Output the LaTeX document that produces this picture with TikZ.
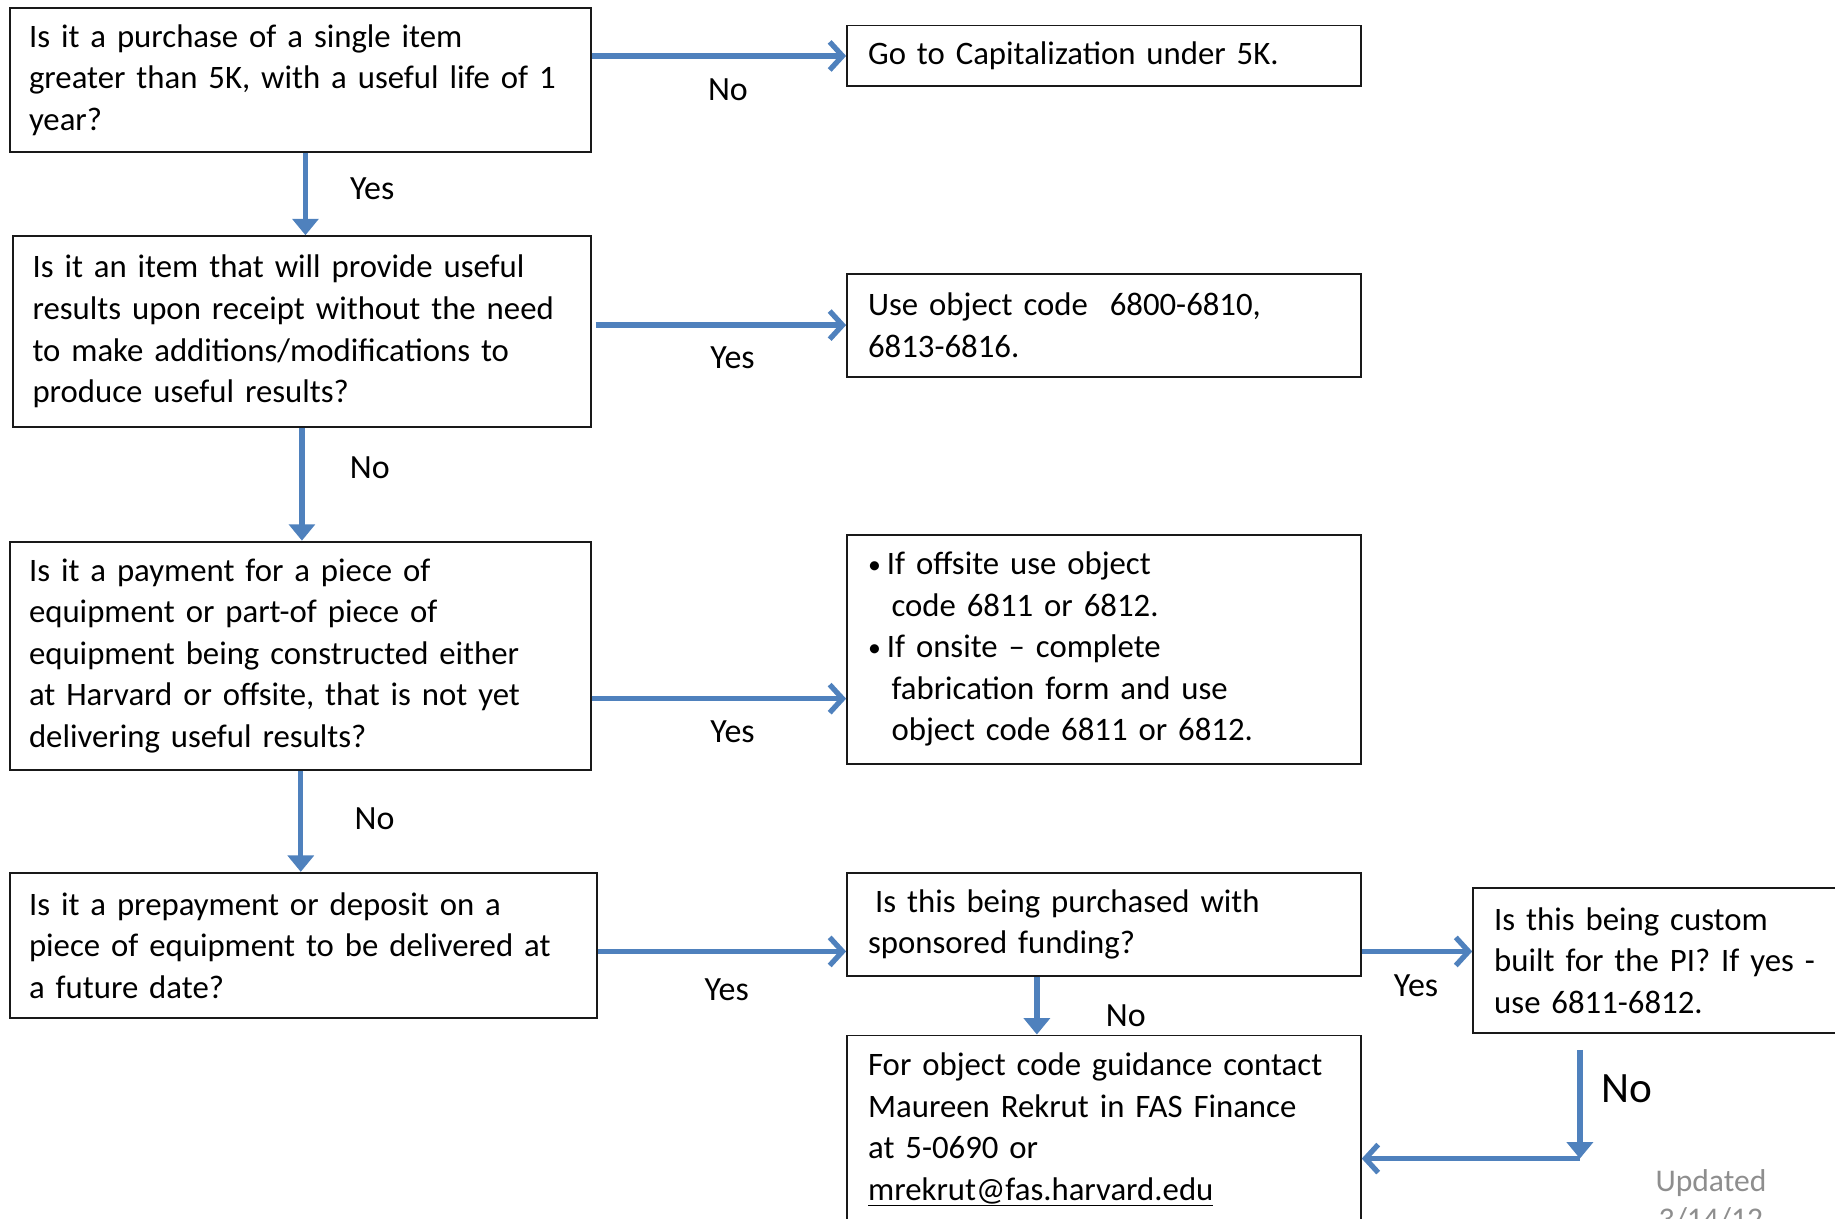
\documentclass[tikz,border=0pt]{standalone}
\usepackage{fontspec}
\setmainfont{Carlito}
\usetikzlibrary{arrows.meta,calc}
\definecolor{arrowblue}{HTML}{4F81BD}
\definecolor{notegray}{HTML}{8E8E8E}
\newcommand\bodyfont{\fontsize{28}{35.5}\selectfont}
\newcommand\lblfont{\fontsize{29}{35}\selectfont}
\newcommand\biglblfont{\fontsize{37}{42}\selectfont}
\tikzset{
  box/.style={draw=black!90, line width=1.6pt, rectangle, anchor=north west,
    align=left, inner ysep=0pt, font=\bodyfont},
  lbl/.style={font=\lblfont, inner sep=0pt},
  arr/.style={draw=arrowblue, line width=4.5pt},
  rt/.style={arr, -{Straight Barb[length=11pt,width=24pt]}},
  dn/.style={arr, -{Triangle[length=14pt,width=22pt]}},
}
\begin{document}
\begin{tikzpicture}[x=1pt,y=-1pt]
\useasboundingbox (0,0) rectangle (1568,1041);
\clip (0,0) rectangle (1568,1041);
% boxes
\node[box, inner xsep=16pt, text width=464pt, minimum height=123pt] (A) at (8,6)
  {Is it a purchase of a single item\\greater than 5K, with a useful life of 1\\year?};
\node[box, inner xsep=18pt, text width=403pt, minimum height=52pt] (B) at (723,21)
  {Go to Capitalization under 5K.};
\node[box, inner xsep=17pt, text width=460pt, minimum height=163pt] (C) at (10,201)
  {Is it an item that will provide useful\\results upon receipt without the need\\to make additions/modifications to\\produce useful results?};
\node[box, inner xsep=18pt, text width=403pt, minimum height=88pt] (D) at (723,233)
  {Use object code\ \ 6800-6810,\\6813-6816.};
\node[box, inner xsep=16pt, text width=464pt, minimum height=195pt] (E) at (8,462)
  {Is it a payment for a piece of\\equipment or part-of piece of\\equipment being constructed either\\at Harvard or offsite, that is not yet\\delivering useful results?};
\node[box, inner xsep=18pt, text width=403pt, minimum height=196pt] (F) at (723,456)
  {\makebox[16pt][l]{\fontsize{22}{22}\selectfont\raisebox{1pt}{•}}If offsite use object\\
   \hspace*{20pt}code 6811 or 6812.\\
   \makebox[16pt][l]{\fontsize{22}{22}\selectfont\raisebox{1pt}{•}}If onsite – complete\\
   \hspace*{20pt}fabrication form and use\\
   \hspace*{20pt}object code 6811 or 6812.};
\node[box, inner xsep=16pt, text width=469pt, minimum height=124pt] (G) at (8,745)
  {Is it a prepayment or deposit on a\\piece of equipment to be delivered at\\a future date?};
\node[box, inner xsep=18pt, text width=403pt, minimum height=88pt] (H) at (723,745)
  {\hspace*{6pt}Is this being purchased with\\sponsored funding?};
\node[box, inner xsep=18pt, text width=304pt, minimum height=124pt] (I) at (1258,758)
  {Is this being custom\\built for the PI? If yes -\\use 6811-6812.};
\node[box, inner xsep=18pt, text width=403pt, minimum height=161pt] (J) at (723,884)
  {For object code guidance contact\\Maureen Rekrut in FAS Finance\\at 5-0690 or\\\underline{mrekrut@fas.harvard.edu}};
% helper coordinates
\coordinate (a1) at (261,0);
\coordinate (c1) at (509,0);
\coordinate (c2) at (258,0);
\coordinate (e1) at (0,597);
\coordinate (e2) at (257,0);
\coordinate (g1) at (0,813);
\coordinate (h1) at (886,0);
\coordinate (i1) at (0,897);
\coordinate (corner) at (1350,990);
% connectors
\draw[rt] (A.east |- B.west) -- (B.west);
\draw[dn] (a1 |- A.south) -- (a1 |- C.north);
\draw[rt] (c1 |- D.west) -- (D.west);
\draw[dn] (c2 |- C.south) -- (c2 |- E.north);
\draw[rt] (E.east |- e1) -- (F.west |- e1);
\draw[dn] (e2 |- E.south) -- (e2 |- G.north);
\draw[rt] (G.east |- g1) -- (H.west |- g1);
\draw[rt] (H.east |- g1) -- (I.west |- g1);
\draw[dn] (h1 |- H.south) -- (h1 |- J.north);
\draw[dn] (corner |- i1) -- (corner);
\draw[rt] (corner) -- (J.east |- corner);
% labels
\node[lbl] (l1) at (622,77) {No};
\node[lbl] (l2) at (318,161) {Yes};
\node[lbl] (l3) at (626,306) {Yes};
\node[lbl] (l4) at (316,400) {No};
\node[lbl] (l5) at (626,625) {Yes};
\node[lbl] (l6) at (320,700) {No};
\node[lbl] (l7) at (621,846) {Yes};
\node[lbl] (l8) at (1210,842) {Yes};
\node[lbl] (l9) at (962,868) {No};
\node[font=\biglblfont, inner sep=0pt] (l10) at (1390,930) {No};
\node[font=\fontsize{27}{33}\selectfont, text=notegray, align=center, inner sep=0pt, anchor=north] (upd) at (1462,999) {Updated\\3/14/12};
\end{tikzpicture}
\end{document}
